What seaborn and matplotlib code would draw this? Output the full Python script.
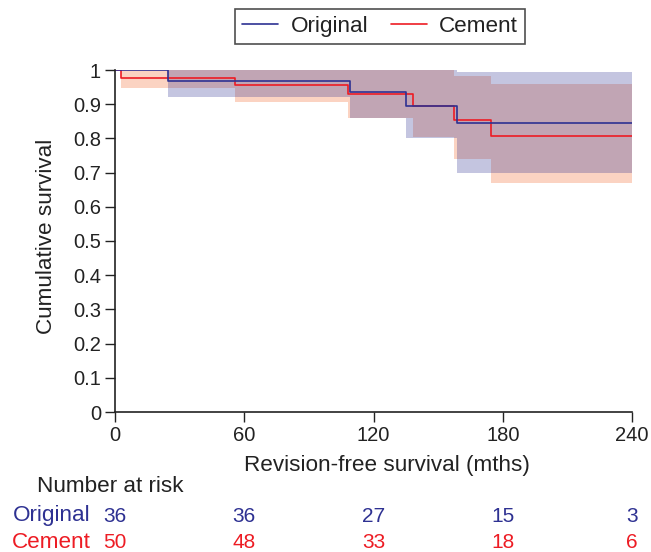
import matplotlib
matplotlib.use("Agg")
import matplotlib.pyplot as plt
import seaborn as sns
import pandas as pd
import numpy as np
from matplotlib.lines import Line2D

# ---- data ----
t_orig = [0, 24.8, 108.9, 135.2, 158.6, 240]
s_orig = [1.0, 0.968, 0.937, 0.896, 0.844, 0.844]
lo_orig = [1.0, 0.922, 0.859, 0.800, 0.698, 0.698]
hi_orig = [1.0, 1.0, 1.0, 1.0, 0.993, 0.993]

t_cem = [0, 2.8, 55.8, 108.0, 138.3, 157.4, 174.6, 240]
s_cem = [1.0, 0.978, 0.957, 0.929, 0.896, 0.854, 0.808, 0.808]
lo_cem = [1.0, 0.946, 0.907, 0.859, 0.805, 0.739, 0.669, 0.669]
hi_cem = [1.0, 1.0, 1.0, 1.0, 1.0, 0.983, 0.959, 0.959]

risk_times = [0, 60, 120, 180, 240]
risk_orig = [36, 36, 27, 15, 3]
risk_cem = [50, 48, 33, 18, 6]

groups = ["Original", "Cement"]
x_ticks = [0, 60, 120, 180, 240]
y_ticks = [0, 0.1, 0.2, 0.3, 0.4, 0.5, 0.6, 0.7, 0.8, 0.9, 1]
y_ticklabels = ["0", "0.1", "0.2", "0.3", "0.4", "0.5", "0.6", "0.7", "0.8", "0.9", "1"]

BLUE = "#2e3192"
RED = "#ed1c24"
BAND_BLUE = "#2e3192"
BAND_ORANGE = "#f58250"

sns.set_theme(style="white")
plt.rcParams["font.family"] = ["Liberation Sans", "DejaVu Sans"]
FS = 14.5     # numbers
FW = 16.2     # words

df = pd.concat([
    pd.DataFrame({"time": t_cem, "surv": s_cem, "group": "Cement"}),
    pd.DataFrame({"time": t_orig, "surv": s_orig, "group": "Original"}),
], ignore_index=True)

fig = plt.figure(figsize=(6.51, 5.52), dpi=100)
W, H = 651, 552
left, right, top, bottom = 115, 632, 70, 412
ax = fig.add_axes([left / W, 1 - bottom / H, (right - left) / W, (bottom - top) / H])

# confidence bands
ax.fill_between(t_cem, lo_cem, hi_cem, step="post", color=BAND_ORANGE, alpha=0.35, lw=0)
ax.fill_between(t_orig, lo_orig, hi_orig, step="post", color=BAND_BLUE, alpha=0.28, lw=0)

sns.lineplot(data=df, x="time", y="surv", hue="group", hue_order=["Cement", "Original"],
             palette={"Cement": RED, "Original": BLUE}, estimator=None, sort=False,
             drawstyle="steps-post", linewidth=1.2, legend=False, ax=ax)

ax.set_xlim(0, 240)
ax.set_ylim(0, 1)
ax.set_xticks(x_ticks)
ax.set_xticklabels([str(v) for v in x_ticks], fontsize=FS)
ax.set_yticks(y_ticks)
ax.set_yticklabels(y_ticklabels, fontsize=FS)
ax.tick_params(axis="both", direction="out", length=7, width=1, color="#222222",
               labelcolor="#222222", bottom=True, left=True, pad=3)
for s in ["top", "right"]:
    ax.spines[s].set_visible(False)
for s in ["left", "bottom"]:
    ax.spines[s].set_color("#222222")
    ax.spines[s].set_linewidth(1.2)
ax.set_xlabel("")
ax.set_ylabel("")

fig.text(47 / W, 1 - 236 / H, "Cumulative survival", rotation=90, ha="center", va="center",
         fontsize=FW, color="#222222")
fig.text(387 / W, 1 - 466 / H, "Revision-free survival (mths)", ha="center", va="center",
         fontsize=FW, color="#222222")
fig.text(37 / W, 1 - 487 / H, "Number at risk", ha="left", va="center",
         fontsize=FW, color="#222222")

# number at risk table
trans = matplotlib.transforms.blended_transform_factory(ax.transData, fig.transFigure)
for name, vals, col, ypix in [("Original", risk_orig, BLUE, 516), ("Cement", risk_cem, RED, 542)]:
    fig.text(91 / W, 1 - ypix / H, name, ha="right", va="center", fontsize=FW, color=col)
    for t, v in zip(risk_times, vals):
        ax.text(t, 1 - ypix / H, str(v), transform=trans, ha="center", va="center",
                fontsize=FS + 0.5, color=col, clip_on=False)

handles = [Line2D([0], [0], color=BLUE, lw=1.2), Line2D([0], [0], color=RED, lw=1.2)]
leg = fig.legend(handles, groups, loc="center", bbox_to_anchor=(380 / W, 1 - 26.5 / H),
                 ncol=2, fontsize=FW, frameon=True, fancybox=False, handlelength=1.6,
                 columnspacing=1.0, handletextpad=0.55, borderpad=0.3)
leg.get_frame().set_edgecolor("#222222")
leg.get_frame().set_linewidth(1.2)
for t in leg.get_texts():
    t.set_color("#222222")

fig.savefig("out.png", dpi=100)
